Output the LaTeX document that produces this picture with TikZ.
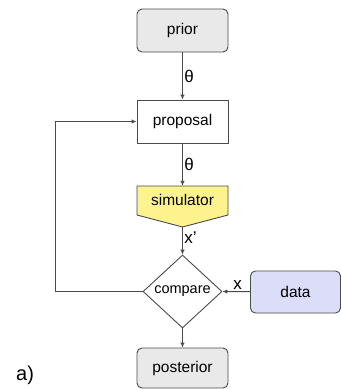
\documentclass[tikz,border=0pt]{standalone}
\usepackage{fontspec}
\setmainfont{Liberation Sans}
\usetikzlibrary{shapes.geometric,arrows.meta}
\definecolor{edge}{HTML}{4A4A4A}
\definecolor{grayfill}{HTML}{E9E9E9}
\definecolor{datafill}{HTML}{DCDDF8}
\definecolor{simfill}{HTML}{FCF38E}
\begin{document}
\begin{tikzpicture}[x=1pt,y=-1pt,
  font=\fontsize{15.5}{17}\selectfont,
  box/.style={draw=edge,line width=0.9pt,minimum width=91pt,minimum height=43pt,inner sep=0pt},
  softbox/.style={box,rounded corners=5pt,fill=grayfill},
  flow/.style={draw=edge,line width=0.9pt,-{Latex[length=5pt,width=4.5pt]}},
  lbl/.style={font=\fontsize{17}{19}\selectfont,inner sep=1.5pt}]
\useasboundingbox (0,0) rectangle (341,389);

\node[softbox] (prior) at (182.5,30.5) {prior};
\node[box,fill=white] (proposal) at (182.5,121.5) {proposal};

% simulator: pentagon pointing down
\fill[simfill,draw=edge,line width=0.9pt,line join=miter]
  (137,186) -- (228,186) -- (228,215) -- (182.5,227) -- (137,215) -- cycle;
\node[minimum width=91pt,minimum height=41pt,inner sep=0pt] (sim) at (182.5,206.5) {};
\node at (182.5,200) {simulator};

\node[diamond,draw=edge,line width=0.9pt,fill=white,minimum width=79pt,minimum height=73pt,inner sep=0pt,font=\fontsize{14.5}{16}\selectfont] (cmp) at (182.5,291.5) {compare};
\node[box,rounded corners=5pt,fill=datafill,minimum width=90pt,minimum height=42pt] (data) at (295.5,292) {data};
\node[softbox,minimum height=40pt] (post) at (182.5,368) {posterior};

\node[font=\fontsize{20}{22}\selectfont,anchor=west,inner sep=0pt] (tag) at (16,375) {a)};

\draw[flow] (prior) -- node[lbl,right] {θ} (proposal);
\draw[flow] (proposal) -- node[lbl,right] {θ} (sim.north);
\draw[flow] (sim.south) -- node[lbl,right,pos=0.4] {x’} (cmp.north);
\draw[flow] (data) -- node[lbl,above,pos=0.45] {x} (cmp.east);
\draw[flow] (cmp.south) -- (post);
\coordinate (loopbot) at (55,291.5);
\coordinate (looptop) at (55,121.5);
\draw[flow] (cmp.west) -- (loopbot) -- (looptop) -- (proposal.west);
\end{tikzpicture}
\end{document}
